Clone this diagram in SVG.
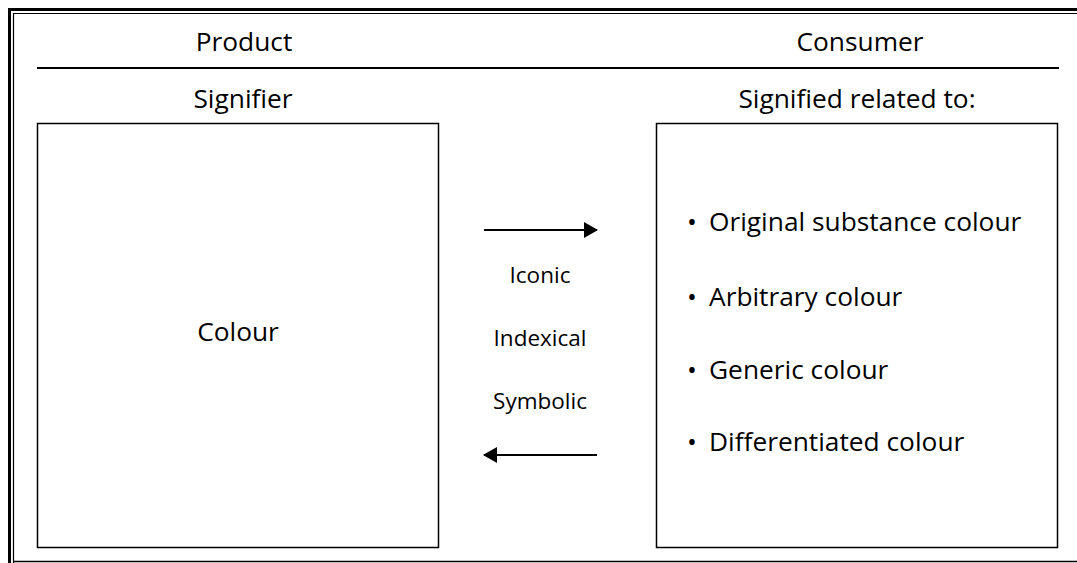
<svg xmlns="http://www.w3.org/2000/svg" width="1077" height="563" viewBox="0 0 1077 563">
<style>
.t{font-family:"Open Sans","Liberation Sans",Arial,sans-serif;fill:#000}
.h{font-size:26.3px}
.m{font-size:22.5px}
.b{font-size:26.3px}
.box{fill:#fff;stroke:#000;stroke-width:1.5}
</style>
<defs>
<marker id="ah2" markerWidth="14" markerHeight="16" refX="13" refY="8" orient="auto" markerUnits="userSpaceOnUse" viewBox="0 0 14 16">
<path d="M0,0 L14,8 L0,16 Z" fill="#000"/>
</marker>
</defs>
<rect width="1077" height="563" fill="#fff"/>
<g id="frame">
<path d="M9.5,563 V9.5 H1077" fill="none" stroke="#000" stroke-width="3"/>
<path d="M13.5,563 V13.5 H1077" fill="none" stroke="#000" stroke-width="1.2"/>
<line x1="13" y1="561.5" x2="1077" y2="561.5" stroke="#000" stroke-width="1.5"/>
</g>
<g id="header">
<text class="t h" x="244" y="51" text-anchor="middle">Product</text>
<text class="t h" x="860" y="51" text-anchor="middle">Consumer</text>
<line x1="37" y1="68" x2="1059" y2="68" stroke="#000" stroke-width="2"/>
<text class="t h" x="243" y="108" text-anchor="middle">Signifier</text>
<text class="t h" x="857" y="108" text-anchor="middle">Signified related to:</text>
</g>
<g id="signifier">
<rect class="box" x="37.5" y="123.5" width="401" height="424"/>
<text class="t b" x="238" y="341" text-anchor="middle">Colour</text>
</g>
<g id="signified">
<rect class="box" x="656.5" y="123.5" width="401" height="424"/>
<text class="t b" x="687" y="231">•</text>
<text class="t b" x="709" y="231">Original substance colour</text>
<text class="t b" x="687" y="306">•</text>
<text class="t b" x="709" y="306">Arbitrary colour</text>
<text class="t b" x="687" y="379">•</text>
<text class="t b" x="709" y="379">Generic colour</text>
<text class="t b" x="687" y="451">•</text>
<text class="t b" x="709" y="451">Differentiated colour</text>
</g>
<g id="modes">
<text class="t m" x="540" y="283" text-anchor="middle">Iconic</text>
<text class="t m" x="540" y="346" text-anchor="middle">Indexical</text>
<text class="t m" x="540" y="409" text-anchor="middle">Symbolic</text>
</g>
<g id="connectors">
<line x1="484" y1="230" x2="597" y2="230" stroke="#000" stroke-width="2" marker-end="url(#ah2)"/>
<line x1="597" y1="455" x2="484" y2="455" stroke="#000" stroke-width="2" marker-end="url(#ah2)"/>
</g>
</svg>
